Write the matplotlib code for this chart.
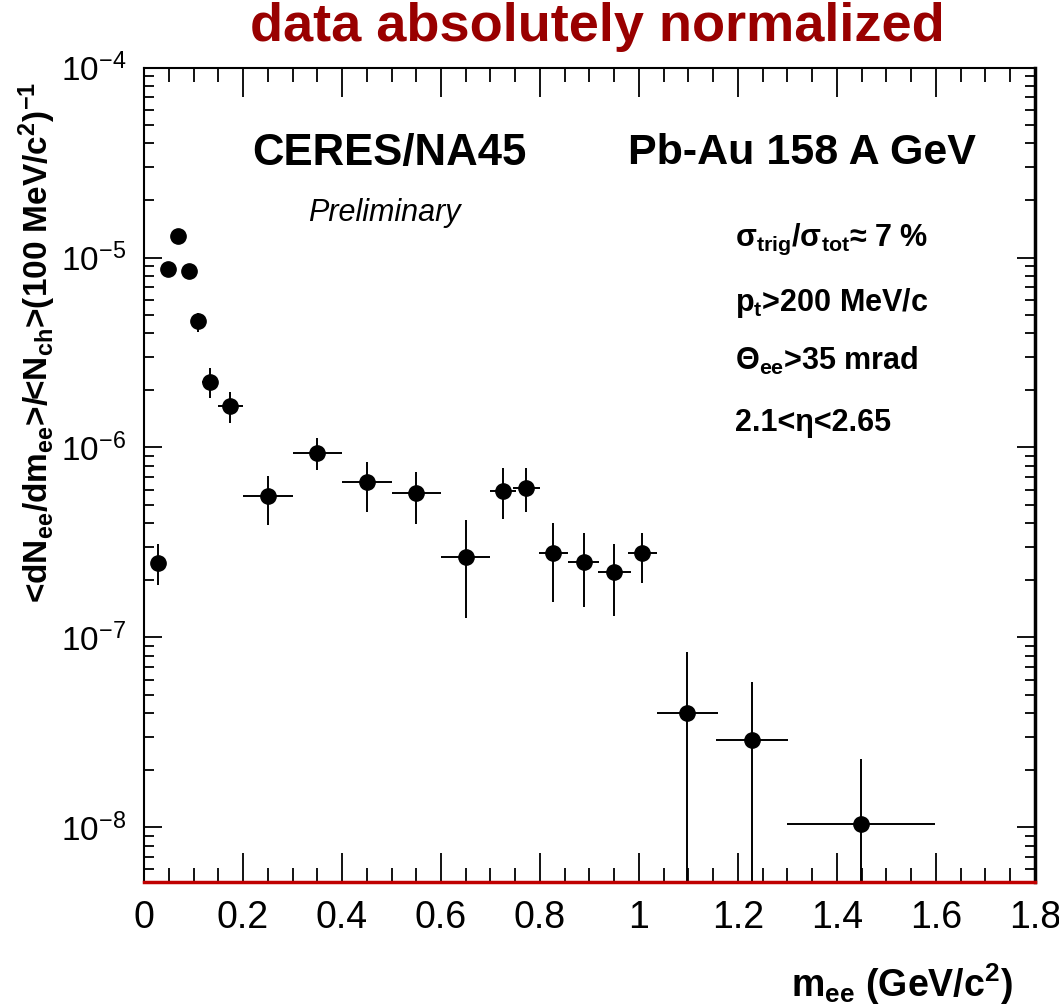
import matplotlib
matplotlib.use("Agg")
import matplotlib.pyplot as plt
from matplotlib.ticker import MultipleLocator, LogLocator, FuncFormatter, NullFormatter
import numpy as np
import math

plt.rcParams["font.family"] = "Liberation Sans"
plt.rcParams["mathtext.fontset"] = "custom"
plt.rcParams["mathtext.rm"] = "Liberation Sans"
plt.rcParams["mathtext.it"] = "Liberation Sans:italic"
plt.rcParams["mathtext.bf"] = "Liberation Sans:bold"

# invariant mass bins (GeV/c^2)
m_ee = [0.028, 0.049, 0.069, 0.090, 0.110, 0.133, 0.174, 0.25, 0.35, 0.45, 0.55,
        0.65, 0.725, 0.772, 0.827, 0.888, 0.950, 1.007, 1.098, 1.228, 1.449]
m_err = [0.010, 0.010, 0.010, 0.010, 0.010, 0.016, 0.025, 0.05, 0.05, 0.05, 0.05,
         0.05, 0.027, 0.027, 0.030, 0.032, 0.033, 0.030, 0.061, 0.073, 0.150]
# yield and the upper / lower end of its error bar
dn_dm = [2.47e-7, 8.68e-6, 1.30e-5, 8.53e-6, 4.64e-6, 2.22e-6, 1.66e-6, 5.55e-7, 9.32e-7,
         6.56e-7, 5.78e-7, 2.66e-7, 5.92e-7, 6.14e-7, 2.77e-7, 2.50e-7, 2.22e-7, 2.79e-7,
         3.98e-8, 2.88e-8, 1.04e-8]
dn_hi = [3.09e-7, 9.2e-6, 1.38e-5, 9.0e-6, 5.08e-6, 2.63e-6, 1.97e-6, 7.08e-7, 1.12e-6,
         8.4e-7, 7.46e-7, 4.15e-7, 7.78e-7, 7.78e-7, 3.98e-7, 3.56e-7, 3.09e-7, 3.56e-7,
         8.4e-8, 5.85e-8, 2.28e-8]
dn_lo = [1.89e-7, 8.1e-6, 1.22e-5, 8.0e-6, 4.07e-6, 1.82e-6, 1.35e-6, 3.9e-7, 7.6e-7,
         4.6e-7, 3.96e-7, 1.26e-7, 4.2e-7, 4.59e-7, 1.54e-7, 1.45e-7, 1.29e-7, 1.94e-7,
         0.0, 0.0, 0.0]

x = np.array(m_ee)
y = np.array(dn_dm)
yerr = [y - np.array(dn_lo), np.array(dn_hi) - y]

fig = plt.figure(figsize=(10.59, 10.07), dpi=100)
ax = fig.add_axes([0.136, 0.1244, 0.8413, 0.8084])

ax.errorbar(x, y, xerr=m_err, yerr=yerr, fmt='o', color='black', markersize=11,
            elinewidth=1.4, capsize=0)

ax.set_yscale('log')
ax.set_xlim(0, 1.8)
ax.set_ylim(5.17e-9, 1e-4)

ax.xaxis.set_major_locator(MultipleLocator(0.2))
ax.xaxis.set_minor_locator(MultipleLocator(0.05))
ax.xaxis.set_major_formatter(FuncFormatter(lambda v, p: f'{v:g}'))
ax.yaxis.set_major_locator(LogLocator(base=10, numticks=10))
ax.yaxis.set_minor_locator(LogLocator(base=10, subs=np.arange(2, 10), numticks=20))
ax.yaxis.set_minor_formatter(NullFormatter())
ax.yaxis.set_major_formatter(FuncFormatter(
    lambda v, p: r'$\mathregular{10^{%d}}$' % round(math.log10(v))))

ax.tick_params(axis='x', which='major', direction='in', length=21, width=1.3,
               top=True, labelsize=27, pad=13)
ax.tick_params(axis='x', which='minor', direction='in', length=10, width=1.3, top=True)
ax.tick_params(axis='y', which='major', direction='in', length=13, width=1.3,
               right=True, labelsize=24, pad=13)
ax.tick_params(axis='y', which='minor', direction='in', length=7, width=1.3, right=True)

for s in ['left', 'top']:
    ax.spines[s].set_linewidth(1.5)
ax.spines['right'].set_linewidth(2.5)
ax.spines['bottom'].set_color('#c00000')
ax.spines['bottom'].set_linewidth(2.5)

ax.set_xlabel(r'm$_{\mathbf{ee}}$ (GeV/c$^{\mathbf{2}}$)', fontsize=27,
              fontweight='bold', loc='right')
ax.xaxis.set_label_coords(0.975, -0.098)
ax.xaxis.label.set_va('top')

ax.set_ylabel(r'<dN$_{\mathbf{ee}}$/dm$_{\mathbf{ee}}$>/<N$_{\mathbf{ch}}$>'
              r'(100 MeV/c$^{\mathbf{2}}$)$^{\mathbf{-1}}$',
              fontsize=24, fontweight='bold', loc='top')
ax.yaxis.set_label_coords(-0.12, 0.982)
ax.yaxis.label.set_va('center')

fig.text(0.564, 0.973, 'data absolutely normalized', color='#990000', fontsize=39,
         fontweight='bold', ha='center', va='center')

ax.text(0.121, 0.895, 'CERES/NA45', transform=ax.transAxes, fontsize=31.5,
        fontweight='bold', ha='left', va='center')
ax.text(0.543, 0.895, 'Pb-Au 158 A GeV', transform=ax.transAxes, fontsize=31,
        fontweight='bold', ha='left', va='center')
ax.text(0.184, 0.822, 'Preliminary', transform=ax.transAxes, fontsize=22,
        style='italic', ha='left', va='center')

ax.text(0.663, 0.789, 'σ$_{\\mathbf{trig}}$/σ$_{\\mathbf{tot}}$≈ 7 %',
        transform=ax.transAxes, fontsize=22, fontweight='bold', ha='left', va='center')
ax.text(0.663, 0.711, r'p$_{\mathbf{t}}$>200 MeV/c', transform=ax.transAxes,
        fontsize=22, fontweight='bold', ha='left', va='center')
ax.text(0.663, 0.640, r'Θ$_{\mathbf{ee}}$>35 mrad', transform=ax.transAxes,
        fontsize=22, fontweight='bold', ha='left', va='center')
ax.text(0.663, 0.563, '2.1<η<2.65', transform=ax.transAxes,
        fontsize=22, fontweight='bold', ha='left', va='center')

fig.savefig('out.png', dpi=100)
